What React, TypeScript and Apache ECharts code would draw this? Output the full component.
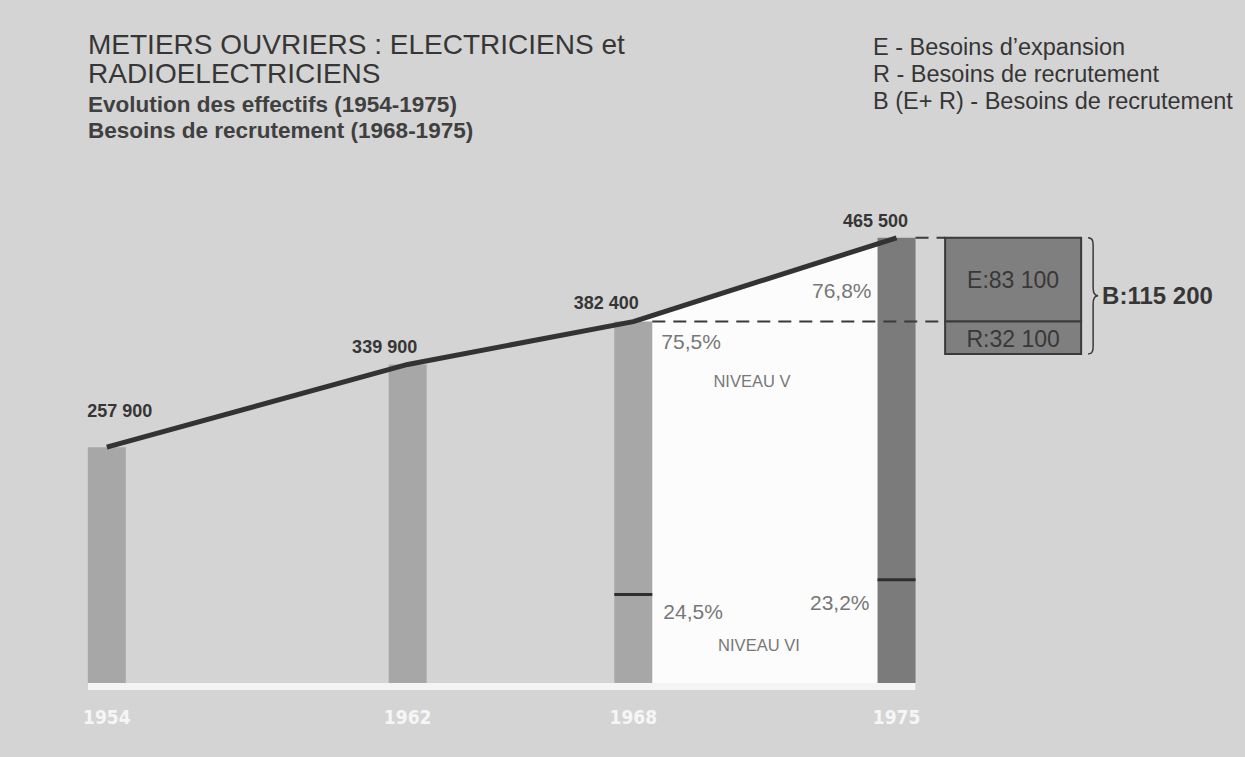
import React, { useEffect, useRef } from 'react';
import * as echarts from 'echarts';

// ---- data ----
const years = [1954, 1962, 1968, 1975];
const effectifs = [257900, 339900, 382400, 465500];
const niveauVIShares: (number | null)[] = [null, null, 24.5, 23.2];
const besoinsCodes = ['E', 'R', 'B'];
const besoinsValues = [83100, 32100, 115200];
const titleLines = ['METIERS OUVRIERS : ELECTRICIENS et', 'RADIOELECTRICIENS'];
const subtitleLines = ['Evolution des effectifs (1954-1975)', 'Besoins de recrutement (1968-1975)'];
const legendLines = ['E - Besoins d\u2019expansion', 'R - Besoins de recrutement', 'B (E+ R) - Besoins de recrutement'];
const niveauLabels = ['NIVEAU V', 'NIVEAU VI'];

// ---- layout / style constants ----
const Y_MIN = 24000;
const Y_MAX = 500000;
const X_MIN = 1953.5;
const X_MAX = 1984;
const BAR_W = 38;
const BOX_OFFSET_YEARS = 3.1;
const labelOffsets = [[13, -22], [-23, -3], [-27, -5], [-21, -3]];
const FONT = '"Liberation Sans", Arial, sans-serif';
const TEXT = '#363636';
const GREY_TEXT = '#777777';

const fmt = (v: number) => String(v).replace(/\B(?=(\d{3})+(?!\d))/g, ' ');
const pct = (v: number) => v.toFixed(1).replace('.', ',') + '%';

export default function App() {
  const ref = useRef<HTMLDivElement>(null);
  useEffect(() => {
    document.body.style.margin = '0';
    if (!ref.current) return;
    const chart = echarts.init(ref.current, null, { renderer: 'svg' });
    const last = years.length - 1;

    const graphic: any[] = [];
    titleLines.forEach((t, i) =>
      graphic.push({ type: 'text', x: 88, y: 44 + i * 29, style: { text: t, fill: TEXT, font: `28px ${FONT}`, verticalAlign: 'middle' } })
    );
    subtitleLines.forEach((t, i) =>
      graphic.push({ type: 'text', x: 88, y: 104 + i * 26, style: { text: t, fill: '#404040', font: `bold 22.5px ${FONT}`, verticalAlign: 'middle' } })
    );
    legendLines.forEach((t, i) =>
      graphic.push({ type: 'text', x: 873, y: 47 + i * 27, style: { text: t, fill: TEXT, font: `23.5px ${FONT}`, verticalAlign: 'middle' } })
    );

    const shareData = years
      .map((y, i) => (niveauVIShares[i] != null ? [y, effectifs[i], niveauVIShares[i] as number] : null))
      .filter(Boolean) as number[][];

    const option: any = {
      animation: false,
      backgroundColor: '#d4d4d4',
      grid: { left: 88, top: 203, width: 1147, height: 480 },
      xAxis: {
        type: 'value',
        min: X_MIN,
        max: X_MAX,
        axisLine: { show: false },
        axisTick: { show: false },
        splitLine: { show: false },
        axisLabel: {
          customValues: years,
          formatter: (v: number) => String(v),
          color: '#f6f6f6',
          fontFamily: '"DejaVu Sans Condensed", "DejaVu Sans", sans-serif',
          fontWeight: 'bold',
          fontSize: 19,
          margin: 24,
        },
      },
      yAxis: { type: 'value', min: Y_MIN, max: Y_MAX, show: false },
      graphic,
      series: [
        {
          type: 'line',
          name: 'zone',
          z: 1,
          symbol: 'none',
          data: shareData.map((d) => [d[0], d[1]]),
          lineStyle: { width: 0 },
          areaStyle: { color: '#fcfcfc', opacity: 1, origin: 'start' },
        },
        {
          type: 'bar',
          name: 'effectifs',
          z: 2,
          barWidth: BAR_W,
          data: years.map((y, i) => ({
            value: [y, effectifs[i]],
            itemStyle: { color: i === last ? '#7b7b7b' : '#a7a7a7' },
            label: { offset: labelOffsets[i] },
          })),
          label: {
            show: true,
            position: 'top',
            formatter: (p: any) => fmt(p.value[1]),
            color: TEXT,
            fontFamily: FONT,
            fontWeight: 'bold',
            fontSize: 18,
          },
        },
        {
          type: 'custom',
          name: 'socle',
          z: 3,
          data: [[years[0], Y_MIN]],
          renderItem: (_p: any, api: any) => {
            const a = api.coord([years[0] - 0.5, Y_MIN]);
            const b = api.coord([years[last] + 0.5, Y_MIN]);
            return { type: 'rect', shape: { x: a[0], y: a[1], width: b[0] - a[0], height: 7 }, style: { fill: '#f4f4f4' } };
          },
        },
        {
          type: 'custom',
          name: 'niveaux',
          z: 3,
          data: shareData,
          renderItem: (params: any, api: any) => {
            const x = api.value(0);
            const v = api.value(1);
            const s = api.value(2);
            const split = Y_MIN + (s / 100) * (v - Y_MIN);
            const [cx, ySplit] = api.coord([x, split]);
            const yTop = api.coord([x, v])[1];
            const right = params.dataIndex === 0;
            const children: any[] = [
              {
                type: 'line',
                shape: { x1: cx - BAR_W / 2, y1: ySplit, x2: cx + BAR_W / 2, y2: ySplit },
                style: { stroke: '#2e2e2e', lineWidth: 3 },
              },
              {
                type: 'text',
                x: right ? cx + BAR_W / 2 + 9 : cx - BAR_W / 2 - 6,
                y: right ? yTop + 20 : yTop + 53,
                style: { text: pct(100 - s), fill: GREY_TEXT, font: `21px ${FONT}`, align: right ? 'left' : 'right', verticalAlign: 'middle' },
              },
              {
                type: 'text',
                x: right ? cx + BAR_W / 2 + 11 : cx - BAR_W / 2 - 8,
                y: right ? ySplit + 17 : ySplit + 23,
                style: { text: pct(s), fill: GREY_TEXT, font: `21px ${FONT}`, align: right ? 'left' : 'right', verticalAlign: 'middle' },
              },
            ];
            if (right) {
              const xNext = api.coord([years[last], v])[0];
              const mid = (cx + xNext) / 2;
              const yBase = api.coord([x, Y_MIN])[1];
              children.push(
                { type: 'text', x: mid - 13, y: yTop + 59, style: { text: niveauLabels[0], fill: GREY_TEXT, font: `16.5px ${FONT}`, align: 'center', verticalAlign: 'middle' } },
                { type: 'text', x: mid - 6, y: yBase - 38, style: { text: niveauLabels[1], fill: GREY_TEXT, font: `16.5px ${FONT}`, align: 'center', verticalAlign: 'middle' } }
              );
            }
            return { type: 'group', children };
          },
        },
        {
          type: 'line',
          name: 'evolution',
          z: 4,
          symbol: 'none',
          data: years.map((y, i) => [y, effectifs[i]]),
          lineStyle: { color: '#333333', width: 5 },
        },
        {
          type: 'custom',
          name: 'besoins',
          z: 5,
          data: [[years[last], effectifs[last]]],
          renderItem: (_p: any, api: any) => {
            const top = effectifs[last];
            const mid = top - besoinsValues[0];
            const low = mid - besoinsValues[1];
            const boxCx = api.coord([years[last] + BOX_OFFSET_YEARS, top])[0];
            const boxL = boxCx - 68;
            const boxR = boxCx + 68;
            const yTop = api.coord([years[last], top])[1];
            const yMid = api.coord([years[last], mid])[1];
            const yLow = api.coord([years[last], low])[1];
            const xPrev = api.coord([years[last - 1], mid])[0] + BAR_W / 2;
            const xLast = api.coord([years[last], top])[0] + BAR_W / 2;
            const dash = { stroke: '#3a3a3a', lineWidth: 2, lineDash: [13, 8] };
            const bx = boxR + 7;
            const yM = (yTop + yLow) / 2;
            const d =
              `M${bx},${yTop} C${bx + 6},${yTop} ${bx + 5},${yTop + 6} ${bx + 5},${yTop + 14} ` +
              `L${bx + 5},${yM - 8} C${bx + 5},${yM - 3} ${bx + 7},${yM} ${bx + 10},${yM} ` +
              `C${bx + 7},${yM} ${bx + 5},${yM + 3} ${bx + 5},${yM + 8} ` +
              `L${bx + 5},${yLow - 14} C${bx + 5},${yLow - 6} ${bx + 6},${yLow} ${bx},${yLow}`;
            return {
              type: 'group',
              children: [
                { type: 'line', shape: { x1: xPrev, y1: yMid, x2: boxL, y2: yMid }, style: dash },
                { type: 'line', shape: { x1: xLast, y1: yTop, x2: boxL, y2: yTop }, style: dash },
                { type: 'rect', shape: { x: boxL, y: yTop, width: boxR - boxL, height: yMid - yTop }, style: { fill: '#7f7f7f', stroke: '#3a3a3a', lineWidth: 2 } },
                { type: 'rect', shape: { x: boxL, y: yMid, width: boxR - boxL, height: yLow - yMid }, style: { fill: '#7f7f7f', stroke: '#3a3a3a', lineWidth: 2 } },
                { type: 'text', x: boxCx, y: (yTop + yMid) / 2, style: { text: `${besoinsCodes[0]}:${fmt(besoinsValues[0])}`, fill: '#383838', font: `23px ${FONT}`, align: 'center', verticalAlign: 'middle' } },
                { type: 'text', x: boxCx, y: (yMid + yLow) / 2 + 1, style: { text: `${besoinsCodes[1]}:${fmt(besoinsValues[1])}`, fill: '#383838', font: `23px ${FONT}`, align: 'center', verticalAlign: 'middle' } },
                { type: 'path', shape: { pathData: d }, style: { fill: 'none', stroke: '#3a3a3a', lineWidth: 1.5 } },
                { type: 'text', x: bx + 14, y: yM, style: { text: `${besoinsCodes[2]}:${fmt(besoinsValues[2])}`, fill: TEXT, font: `bold 24px ${FONT}`, align: 'left', verticalAlign: 'middle' } },
              ],
            };
          },
        },
      ],
    };
    chart.setOption(option);
    return () => chart.dispose();
  }, []);
  return <div ref={ref} style={{ width: 1245, height: 757, background: '#d4d4d4' }} />;
}
